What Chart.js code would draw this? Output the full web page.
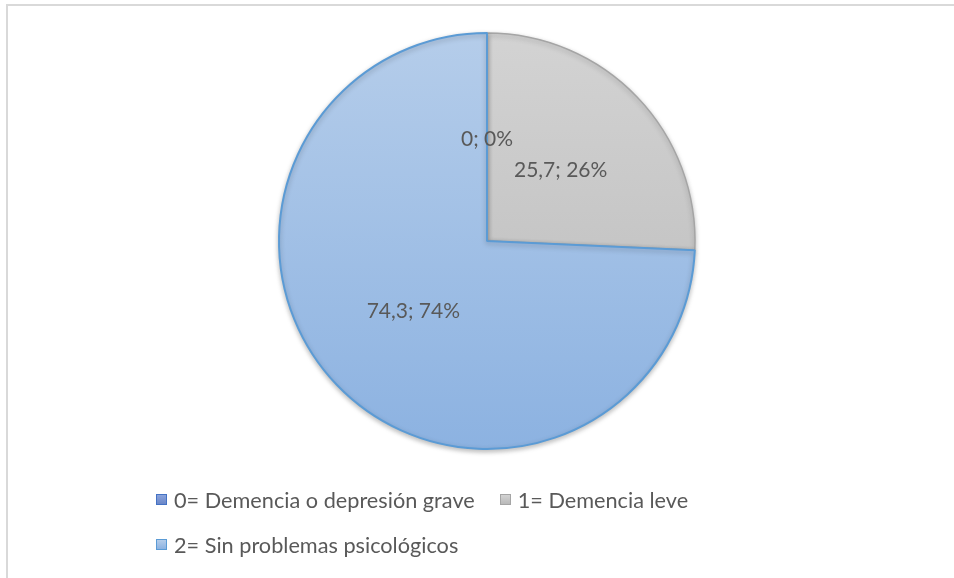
<!DOCTYPE html>
<html>
<head>
<meta charset="utf-8">
<script src="https://cdn.jsdelivr.net/npm/chart.js@4/dist/chart.umd.min.js"></script>
<style>
  html, body { margin: 0; padding: 0; background: #fff; overflow: hidden; }
  #wrap { position: relative; width: 954px; height: 578px; }
  #frame { position: absolute; left: 6px; top: 4px; width: 1000px; height: 1000px; border: 2px solid #d9d9d9; box-sizing: border-box; }
  canvas { position: absolute; left: 0; top: 0; }
  #legend { position: absolute; left: 156px; top: 484px; width: 700px; font-family: Lato, "Open Sans", sans-serif; font-size: 21.7px; color: #595959; }
  .item { display: inline-flex; align-items: center; height: 26px; margin-right: 25px; white-space: nowrap; }
  .row { height: 45px; }
  .box { width: 9px; height: 9px; border: 1px solid; margin-right: 7px; }
</style>
</head>
<body>
<div id="wrap">
  <div id="frame"></div>
  <canvas id="c" width="954" height="578"></canvas>
  <div id="legend"></div>
</div>
<script>
const categories = ["0= Demencia o depresión grave", "1= Demencia leve", "2= Sin problemas psicológicos"];
const values = [0, 25.7, 74.3];
const fillTop = ["#8aa3dc", "#d3d3d3", "#b5cdea"];
const fillBottom = ["#6a87c8", "#b9b9b9", "#8cb2e1"];
const borderColors = ["#4472c4", "#a5a5a5", "#5b9bd5"];
const legendRows = [[0, 1], [2]];

const total = values.reduce((a, b) => a + b, 0);

function gradientFor(ctx, i) {
  const chart = ctx.chart;
  const area = chart.chartArea;
  if (!area) return fillTop[i];
  const g = chart.ctx.createLinearGradient(0, area.top, 0, area.bottom);
  g.addColorStop(0, fillTop[i]);
  g.addColorStop(1, fillBottom[i]);
  return g;
}

const labelPlugin = {
  id: 'sliceLabels',
  afterDatasetsDraw(chart) {
    const ctx = chart.ctx;
    const meta = chart.getDatasetMeta(0);
    ctx.save();
    ctx.font = '21px Lato, "Open Sans", sans-serif';
    ctx.fillStyle = '#595959';
    ctx.textAlign = 'center';
    ctx.textBaseline = 'middle';
    meta.data.forEach((arc, i) => {
      const p = arc.getProps(['x', 'y', 'startAngle', 'endAngle', 'outerRadius'], true);
      const mid = (p.startAngle + p.endAngle) / 2;
      const r = p.outerRadius * 0.49;
      const v = values[i];
      const txt = String(v).replace('.', ',') + '; ' + Math.round(v / total * 100) + '%';
      ctx.fillText(txt, p.x + Math.cos(mid) * r, p.y + Math.sin(mid) * r);
    });
    ctx.restore();
  }
};

const shadowPlugin = {
  id: 'pieShadow',
  beforeDatasetsDraw(chart) {
    const ctx = chart.ctx;
    ctx.save();
    ctx.shadowColor = 'rgba(0,0,0,0.25)';
    ctx.shadowBlur = 5;
    ctx.shadowOffsetY = 2;
  },
  afterDatasetsDraw(chart) {
    chart.ctx.restore();
  }
};

new Chart(document.getElementById('c'), {
  type: 'pie',
  data: {
    labels: categories,
    datasets: [{
      data: values,
      backgroundColor: (ctx) => gradientFor(ctx, ctx.dataIndex),
      borderColor: borderColors,
      borderWidth: [0, 1.5, 2],
      borderAlign: 'center'
    }]
  },
  options: {
    responsive: false,
    animation: false,
    rotation: 0,
    layout: { padding: { top: 32, left: 278, right: 258, bottom: 128 } },
    plugins: { legend: { display: false }, tooltip: { enabled: false } }
  },
  plugins: [shadowPlugin, labelPlugin]
});

const leg = document.getElementById('legend');
legendRows.forEach(row => {
  const r = document.createElement('div');
  r.className = 'row';
  row.forEach(i => {
    const it = document.createElement('span');
    it.className = 'item';
    const b = document.createElement('span');
    b.className = 'box';
    b.style.background = 'linear-gradient(' + fillTop[i] + ',' + fillBottom[i] + ')';
    b.style.borderColor = borderColors[i];
    const t = document.createElement('span');
    t.textContent = categories[i];
    it.appendChild(b); it.appendChild(t);
    r.appendChild(it);
  });
  leg.appendChild(r);
});
</script>
</body>
</html>
